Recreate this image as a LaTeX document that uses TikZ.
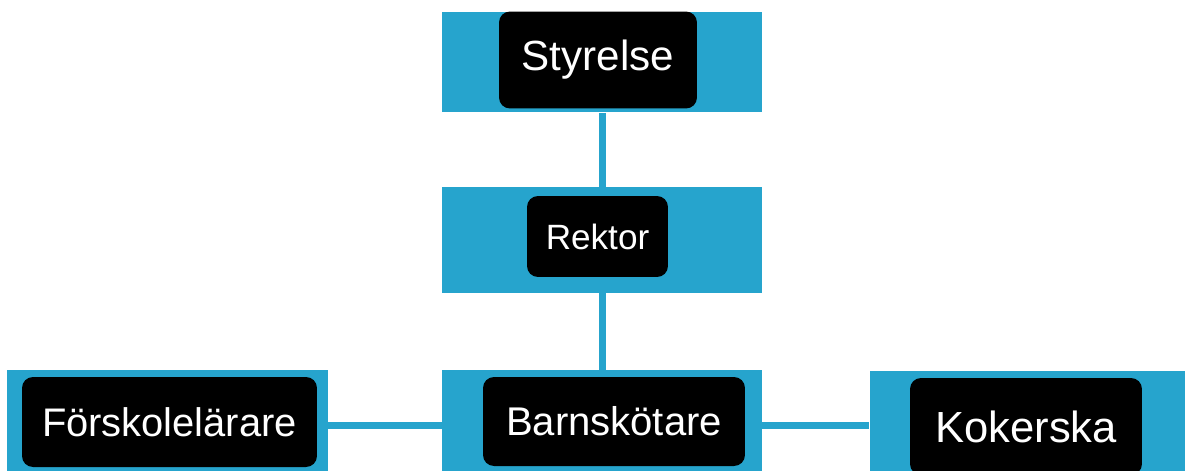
\documentclass[tikz,border=0pt]{standalone}
\usepackage{fontspec}
\setmainfont{Liberation Sans}
\definecolor{orgblue}{RGB}{38,164,205}

\tikzset{
  panel/.style={fill=orgblue, inner sep=0pt, minimum width=6.4cm, minimum height=2.1cm},
  badge/.style={fill=black, text=white, rounded corners=0.22cm, inner sep=0pt},
  link/.style={orgblue, line width=0.14cm}
}

\begin{document}
\begin{tikzpicture}[x=0.02cm,y=-0.02cm]
\clip (0,0) rectangle (1185,470);
% blue panels
\node[panel, minimum height=2.02cm] (styrelsepanel) at (602,62) {};
\node[panel, minimum height=2.12cm] (rektorpanel) at (602,240) {};
\node[panel, minimum width=6.42cm, minimum height=2.2cm] (forskolepanel) at (167.5,425) {};
\node[panel, minimum height=2.2cm] (barnpanel) at (602,425) {};
\node[panel, minimum width=6.5cm, minimum height=2.16cm] (kokpanel) at (1032,425) {};
% links
\draw[link] (styrelsepanel.south) -- (rektorpanel.north);
\draw[link] (rektorpanel.south) -- (barnpanel.north);
\draw[link] (forskolepanel.east) -- (barnpanel.west);
\draw[link] (barnpanel.east) -- (kokpanel.west);
% black labels
\node[badge, minimum width=3.96cm, minimum height=1.94cm] (styrelse) at (598,60) {\fontsize{24}{28}\selectfont\raisebox{-2pt}{Styrelse}};
\node[badge, minimum width=2.82cm, minimum height=1.62cm] (rektor) at (597.5,236.5) {\fontsize{20}{24}\selectfont Rektor};
\node[badge, minimum width=5.9cm, minimum height=1.8cm] (forskole) at (169.5,422) {\fontsize{22.7}{26}\selectfont Förskolelärare};
\node[badge, minimum width=5.24cm, minimum height=1.78cm] (barn) at (614,421.5) {\fontsize{22.8}{26}\selectfont Barnskötare};
\node[badge, minimum width=4.64cm, minimum height=1.94cm] (kok) at (1026,426.5) {\fontsize{24.8}{28}\selectfont Kokerska};
\end{tikzpicture}
\end{document}
